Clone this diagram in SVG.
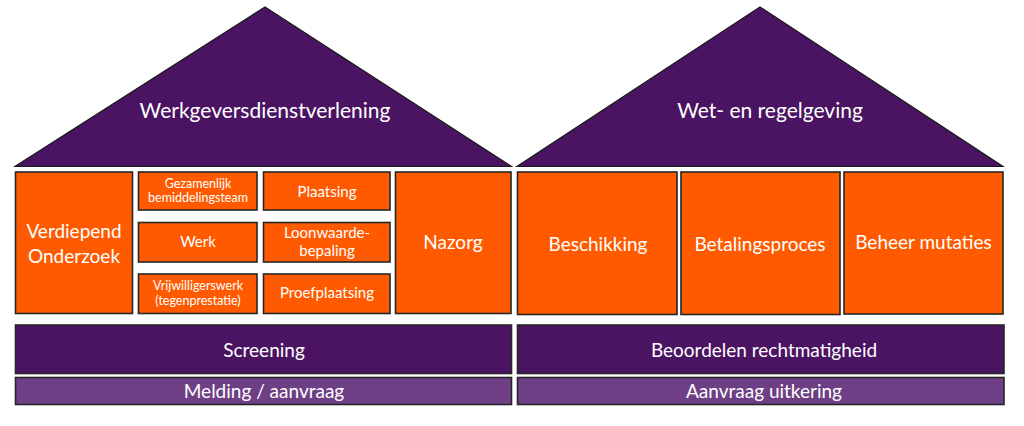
<svg xmlns="http://www.w3.org/2000/svg" width="1024" height="426" viewBox="0 0 1024 426">
<style>
  .roof { fill: #4a1463; stroke: #1a1a1a; stroke-width: 1.2; }
  .box { fill: #ff5a00; stroke: #262626; stroke-width: 1.6; }
  .bar { fill: #4a1463; stroke: #262626; stroke-width: 1.6; }
  .base { fill: #6e3f85; stroke: #262626; stroke-width: 1.6; }
  text { font-family: Lato, "Open Sans", "Liberation Sans", sans-serif; fill: #ffffff; text-anchor: middle; }
  .t22 { font-size: 21px; }
  .t20 { font-size: 19px; }
  .t16 { font-size: 15px; }
  .t13 { font-size: 12.5px; }
</style>
<rect width="1024" height="426" fill="#ffffff"/>

<g id="roof-left">
  <polygon class="roof" points="265,7 511.5,166.5 15,166.5"/>
  <text class="t22" x="265" y="118">Werkgeversdienstverlening</text>
</g>
<g id="roof-right">
  <polygon class="roof" points="760,7 1003,166.5 517,166.5"/>
  <text class="t22" x="770" y="118">Wet- en regelgeving</text>
</g>

<g id="verdiepend-onderzoek">
  <rect class="box" x="15.5" y="172" width="117" height="141.5"/>
  <text class="t20" x="74" y="238">Verdiepend</text>
  <text class="t20" x="74" y="263">Onderzoek</text>
</g>
<g id="gezamenlijk">
  <rect class="box" x="138.5" y="172" width="118.5" height="38"/>
  <text class="t13" x="198" y="188">Gezamenlijk</text>
  <text class="t13" x="198" y="202">bemiddelingsteam</text>
</g>
<g id="plaatsing">
  <rect class="box" x="263.5" y="172" width="126.5" height="38"/>
  <text class="t16" x="327" y="197">Plaatsing</text>
</g>
<g id="werk">
  <rect class="box" x="138.5" y="222.5" width="118.5" height="39.5"/>
  <text class="t16" x="198" y="247">Werk</text>
</g>
<g id="loonwaardebepaling">
  <rect class="box" x="263.5" y="222.5" width="126.5" height="39.5"/>
  <text class="t16" x="327" y="238">Loonwaarde-</text>
  <text class="t16" x="327" y="256">bepaling</text>
</g>
<g id="vrijwilligerswerk">
  <rect class="box" x="138.5" y="274" width="118.5" height="39.5"/>
  <text class="t13" x="198" y="290">Vrijwilligerswerk</text>
  <text class="t13" x="198" y="305">(tegenprestatie)</text>
</g>
<g id="proefplaatsing">
  <rect class="box" x="263.5" y="274" width="126.5" height="39.5"/>
  <text class="t16" x="327" y="298">Proefplaatsing</text>
</g>
<g id="nazorg">
  <rect class="box" x="395.5" y="172" width="115.5" height="141.5"/>
  <text class="t20" x="453" y="249">Nazorg</text>
</g>

<g id="beschikking">
  <rect class="box" x="517.5" y="172" width="159.5" height="142.5"/>
  <text class="t20" x="598" y="251">Beschikking</text>
</g>
<g id="betalingsproces">
  <rect class="box" x="681" y="172" width="159" height="142.5"/>
  <text class="t20" x="760" y="251">Betalingsproces</text>
</g>
<g id="beheer-mutaties">
  <rect class="box" x="844" y="172" width="159" height="142"/>
  <text class="t20" x="923.5" y="249">Beheer mutaties</text>
</g>

<g id="screening">
  <rect class="bar" x="15.5" y="325" width="496" height="48.5"/>
  <text class="t20" x="264" y="357">Screening</text>
</g>
<g id="melding-aanvraag">
  <rect class="base" x="15.5" y="377.5" width="496" height="27"/>
  <text class="t20" x="264" y="398">Melding / aanvraag</text>
</g>
<g id="beoordelen-rechtmatigheid">
  <rect class="bar" x="517.5" y="325" width="486.5" height="48.5"/>
  <text class="t20" x="764" y="357">Beoordelen rechtmatigheid</text>
</g>
<g id="aanvraag-uitkering">
  <rect class="base" x="517.5" y="377.5" width="486.5" height="27"/>
  <text class="t20" x="764" y="398">Aanvraag uitkering</text>
</g>

<g id="connectors"></g>
</svg>
